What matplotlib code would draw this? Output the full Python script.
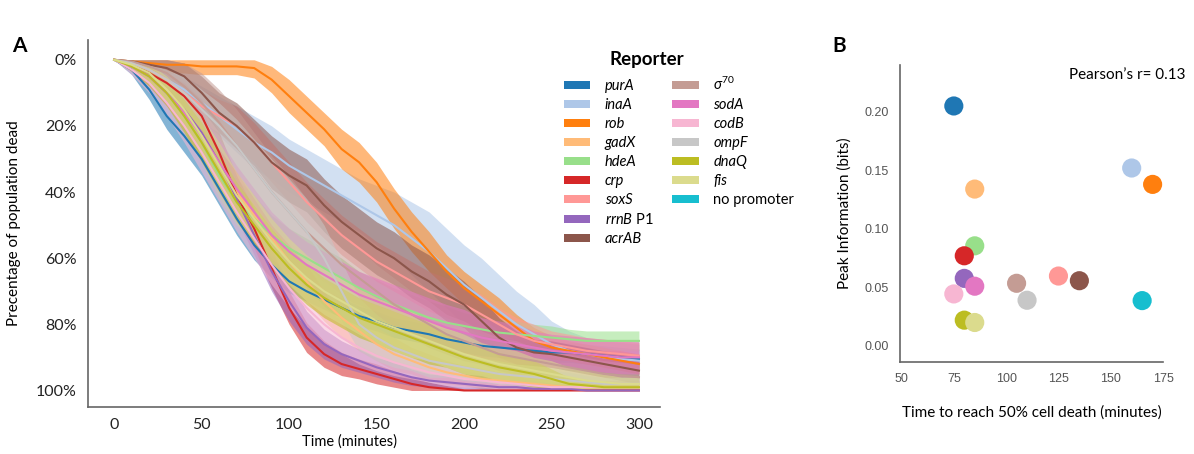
import numpy as np
import matplotlib
matplotlib.use("Agg")
import matplotlib.pyplot as plt
from matplotlib.patches import Patch

plt.rcParams['font.family'] = ['Lato', 'DejaVu Sans']
plt.rcParams['mathtext.fontset'] = 'custom'
plt.rcParams['mathtext.rm'] = 'Lato'
plt.rcParams['mathtext.it'] = 'Lato:italic'

# ---- data ----
minutes = [0, 10, 20, 30, 40, 50, 60, 70, 80, 90, 100, 110, 120, 130, 140, 150,
           160, 170, 180, 190, 200, 210, 220, 230, 240, 250, 260, 270, 280, 290, 300]

reporters = ['purA', 'inaA', 'rob', 'gadX', 'hdeA', 'crp', 'soxS', 'rrnB P1', 'acrAB',
             'sigma70', 'sodA', 'codB', 'ompF', 'dnaQ', 'fis', 'no promoter']
labels = ['purA', 'inaA', 'rob', 'gadX', 'hdeA', 'crp', 'soxS', r'$\mathit{rrnB}$ P1', 'acrAB',
          r'$\sigma^{70}$', 'sodA', 'codB', 'ompF', 'dnaQ', 'fis', 'no promoter']
colors = ['#1f77b4', '#aec7e8', '#ff7f0e', '#ffbb78', '#98df8a', '#d62728', '#ff9896', '#9467bd',
          '#8c564b', '#c49c94', '#e377c2', '#f7b6d2', '#c7c7c7', '#bcbd22', '#dbdb8d', '#17becf']

# mean percentage dead per reporter (no promoter curve is not visible in panel A)
dead_mean = {
    'purA': [0, 3, 9, 17, 23, 30, 39, 48, 56, 62, 67, 70, 72.5, 75, 77.5, 79, 81, 82, 83, 84.5,
             85.5, 86.5, 87, 87.5, 88, 88.5, 88.5, 89, 89.5, 90, 90.5],
    'inaA': [0, 1, 3, 6, 9, 13, 17, 21, 25, 28, 32, 35, 38, 41, 44, 47, 50, 54, 58, 63, 68, 72,
             76, 80, 83, 86, 88, 89, 90, 90.5, 91],
    'rob': [0, 0.5, 1, 1.5, 1.5, 2, 2, 2, 2.5, 6, 11, 16, 21, 27, 31, 37, 45, 52, 58, 64, 69, 73,
            77, 81, 85, 87, 88, 89, 90, 91, 92],
    'gadX': [0, 2, 5, 9, 15, 22, 31, 40, 47, 54, 61, 67, 73, 78, 82, 86, 89, 91, 93, 94.5, 95.5,
             96.5, 97, 97.5, 98, 98.5, 99, 99, 99, 99, 99],
    'hdeA': [0, 2, 5, 10, 17, 25, 35, 43, 48, 53, 57, 60, 63, 66, 69, 71.5, 74, 76, 78, 79.5, 80.5,
             81.5, 82.5, 83, 83.5, 84, 84.5, 85, 85, 85, 85],
    'crp': [0, 1.5, 4, 7, 11, 17, 28, 41, 51, 63, 75, 84, 89, 92, 93.5, 95, 96.5, 98, 99, 99.5,
            100, 100, 100, 100, 100, 100, 100, 100, 100, 100, 100],
    'soxS': [0, 1, 3, 6, 10, 14, 17, 20, 25, 31, 37, 43, 48, 53, 57, 61, 64, 67, 70, 72, 74, 77,
             80, 83, 85, 86, 87, 88, 88.5, 89, 89.5],
    'rrnB P1': [0, 2, 5, 10, 15, 22, 31, 42, 53, 64, 73, 81, 86, 89, 91, 93, 94.5, 96, 97, 97.5,
                98, 98.5, 99, 99, 99.5, 99.5, 99.5, 100, 100, 100, 100],
    'acrAB': [0, 0.5, 1.5, 2.5, 5, 10, 16, 20, 25, 31, 35, 38, 44, 49, 53, 57, 60, 64, 67, 71, 74,
              79, 84, 87, 88.5, 89, 90, 91, 92, 93, 94],
    'sigma70': [0, 0.5, 2, 4, 8, 13, 19, 26, 33, 40, 46, 52, 57, 62, 66, 70, 74, 77, 80, 83, 85,
                87, 89, 90, 91, 92, 93, 94, 95, 95.5, 96],
    'sodA': [0, 2, 5, 10, 16, 23, 31, 39, 46, 53, 58, 62, 65, 68, 71, 73, 75, 77, 79, 81, 82.5, 84,
             85, 86, 87, 88, 88.5, 89, 89.5, 90, 90],
    'codB': [0, 3, 7, 13, 20, 28, 37, 46, 54, 62, 69, 75, 80, 84, 87, 89.5, 91.5, 93, 94.5, 95.5,
             96.5, 97, 97.5, 98, 98.5, 99, 99, 99, 99, 99, 99],
    'ompF': [0, 1, 3, 6, 10, 15, 20, 26, 33, 40, 46, 52, 60, 70, 80, 84, 87, 89, 91, 92, 93, 94,
             95, 95.5, 96, 96.5, 97, 97.5, 98, 98, 98],
    'dnaQ': [0, 2, 5, 10, 17, 25, 34, 43, 50, 57, 63, 68, 72, 75, 78, 80, 82, 84, 86, 88, 90, 91.5,
             93, 94, 95, 96.5, 98, 98.5, 99, 99, 99],
    'fis': [0, 1.5, 4, 9, 15, 23, 32, 41, 48, 55, 61, 66, 70, 73, 76, 79, 81, 83, 85, 87, 89, 90.5,
            92, 93, 94, 95, 96, 97, 97.5, 98, 98],
}

# half width of the confidence band
dead_band = {
    'purA': [0, 1.5, 3, 4, 5, 5, 5, 5, 4.5, 4, 3.5, 3, 3, 3, 3, 3, 3, 3, 3, 3, 3, 3, 3, 3, 3, 3,
             3, 3, 3, 3, 3],
    'inaA': [0, 1, 2, 3, 4, 5, 6, 7, 8, 8, 8, 8, 8, 8, 8, 9, 10, 11, 12, 12, 12, 12, 11, 10, 9, 7,
             6, 5, 5, 5, 5],
    'rob': [0, 1.5, 2, 2.5, 2.5, 2.5, 2.5, 2.5, 3, 4, 5, 5, 5, 6, 6, 6, 6, 6, 6, 5, 5, 5, 5, 4, 4,
            3.5, 3, 3, 3, 3, 3],
    'gadX': [0, 1.5, 3, 4, 5, 6, 6, 6, 6, 6, 6, 6, 6, 6, 6, 5, 5, 4, 4, 3.5, 3, 3, 2.5, 2.5, 2, 2,
             2, 2, 2, 2, 2],
    'hdeA': [0, 1.5, 3, 4, 5, 6, 7, 7, 7, 6, 6, 6, 6, 6, 5, 5, 5, 5, 5, 5, 4, 4, 4, 4, 3.5, 3.5, 3,
             3, 3, 3, 3],
    'crp': [0, 1, 2, 3, 4, 5, 6, 6, 6, 6, 5, 4.5, 4, 3.5, 3, 3, 2.5, 2, 1.5, 1, 0.5, 0, 0, 0, 0, 0,
            0, 0, 0, 0, 0],
    'soxS': [0, 1, 2, 3, 4, 5, 5, 6, 6, 6, 6, 6, 6, 6, 6, 6, 6, 6, 6, 6, 6, 6, 5, 5, 5, 4, 4, 4, 4,
             4, 4],
    'rrnB P1': [0, 1.5, 3, 4, 5, 6, 6, 6, 6, 6, 6, 5, 4.5, 4, 3.5, 3, 3, 2.5, 2, 2, 1.5, 1.5, 1, 1,
                1, 1, 1, 0.5, 0.5, 0.5, 0.5],
    'acrAB': [0, 1, 2, 3, 4, 5, 6, 7, 7, 8, 8, 8, 8, 8, 8, 8, 8, 8, 8, 8, 7, 7, 6, 5, 4, 4, 4, 4, 4,
              4, 4],
    'sigma70': [0, 1, 3, 5, 7, 9, 10, 11, 11, 11, 11, 10, 10, 9, 9, 8, 8, 7, 7, 6, 6, 5, 5, 5, 4, 4,
                4, 4, 4, 4, 4],
    'sodA': [0, 1.5, 3, 4, 5, 6, 7, 7, 7, 7, 7, 7, 7, 7, 7, 7, 7, 7, 7, 7, 7, 6, 6, 6, 5, 5, 5, 5, 5,
             5, 5],
    'codB': [0, 1.5, 3, 4, 5, 6, 6, 6, 6, 6, 6, 6, 5.5, 5, 5, 4.5, 4, 3.5, 3, 3, 2.5, 2, 2, 2, 1.5,
             1, 1, 1, 1, 1, 1],
    'ompF': [0, 1, 2, 3, 5, 6, 7, 8, 9, 10, 10, 10, 10, 9, 8, 7, 6, 5, 5, 4, 4, 3.5, 3, 3, 3, 2.5,
             2.5, 2, 2, 2, 2],
    'dnaQ': [0, 1.5, 3, 4, 5, 6, 6, 6, 6, 6, 6, 6, 6, 6, 6, 6, 6, 6, 6, 5, 5, 5, 4.5, 4, 4, 3, 2,
             1.5, 1, 1, 1],
    'fis': [0, 1.5, 3, 4, 5, 6, 7, 7, 7, 7, 7, 7, 7, 7, 7, 7, 7, 7, 6, 6, 6, 5, 5, 5, 4, 4, 3, 3,
            2.5, 2, 2],
}

# panel B: time to 50% death vs peak information
half_death_time = [75, 160, 170, 85, 85, 80, 125, 80, 135, 105, 85, 75, 110, 80, 85, 165]
peak_info = [0.205, 0.152, 0.138, 0.134, 0.0855, 0.077, 0.0597, 0.0577, 0.0557, 0.0535,
             0.051, 0.0444, 0.039, 0.022, 0.020, 0.0387]

fig = plt.figure(figsize=(11.94, 4.54), dpi=100)
axA = fig.add_axes([0.0737, 0.1035, 0.479, 0.8085])
axB = fig.add_axes([0.7538, 0.2033, 0.2203, 0.6535])

# ---- panel A ----
t = np.array(minutes)
for name in reporters:
    if name not in dead_mean:
        continue
    c = colors[reporters.index(name)]
    m = np.array(dead_mean[name], dtype=float)
    b = np.array(dead_band[name], dtype=float)
    axA.fill_between(t, np.clip(m - b, 0, 100), np.clip(m + b, 0, 100),
                     color=c, alpha=0.55, lw=0)
    axA.plot(t, m, color=c, lw=1.5)

axA.set_xlim(-15, 312)
axA.set_ylim(105, -6)
axA.set_xticks([0, 50, 100, 150, 200, 250, 300])
axA.set_yticks([0, 20, 40, 60, 80, 100])
axA.set_yticklabels(['%d%%' % v for v in [0, 20, 40, 60, 80, 100]])
axA.tick_params(length=0, labelsize=11.5, pad=8, colors='#222222')
axA.set_xlabel('Time (minutes)', fontsize=10.5)
axA.set_ylabel('Precentage of population dead', fontsize=11)
axA.xaxis.set_label_coords(0.458, -0.075)
axA.yaxis.set_label_coords(-0.118, 0.5)
for s in ['top', 'right']:
    axA.spines[s].set_visible(False)
for s in ['left', 'bottom']:
    axA.spines[s].set_color('#666666')
    axA.spines[s].set_linewidth(1.2)

handles = [Patch(facecolor=c, edgecolor='none') for c in colors]
handles.append(Patch(facecolor='none', edgecolor='none'))
leg = axA.legend(handles, labels + [''], ncol=2, frameon=False,
                 loc='upper left', bbox_to_anchor=(564 / 1194, 1 - 76 / 454),
                 bbox_transform=fig.transFigure, borderaxespad=0, borderpad=0,
                 fontsize=10.5, handlelength=1.8, handleheight=0.45,
                 handletextpad=1.0, columnspacing=1.3, labelspacing=0.34)
for txt in leg.get_texts():
    if txt.get_text() not in ('no promoter', '') and '$' not in txt.get_text():
        txt.set_fontstyle('italic')
fig.text(647 / 1194, 1 - 60 / 454, 'Reporter', fontsize=13.5, fontweight='bold',
         ha='center', va='center')

# ---- panel B ----
axB.scatter(half_death_time, peak_info, c=colors, s=190, linewidths=0, zorder=3)
axB.set_xlim(49.3, 175)
axB.set_ylim(-0.0135, 0.24)
axB.set_xticks([50, 75, 100, 125, 150, 175])
axB.set_yticks([0.0, 0.05, 0.10, 0.15, 0.20])
axB.set_yticklabels(['0.00', '0.05', '0.10', '0.15', '0.20'])
axB.tick_params(length=0, labelsize=9, pad=8, colors='#555555')
for lab in axB.get_xticklabels() + axB.get_yticklabels():
    lab.set_family(['Liberation Sans', 'DejaVu Sans'])
axB.set_xlabel('Time to reach 50% cell death (minutes)', fontsize=11)
axB.set_ylabel('Peak Information (bits)', fontsize=11)
axB.xaxis.set_label_coords(0.5, -0.148)
axB.yaxis.set_label_coords(-0.182, 0.5)
for s in ['top', 'right']:
    axB.spines[s].set_visible(False)
for s in ['left', 'bottom']:
    axB.spines[s].set_color('#666666')
    axB.spines[s].set_linewidth(1.2)
axB.text(1.085, 0.965, u'Pearson\u2019s r= 0.13', transform=axB.transAxes,
         ha='right', va='center', fontsize=11)

fig.text(12 / 1194, 1 - 46 / 454, 'A', fontsize=15, fontweight='bold', va='center')
fig.text(832 / 1194, 1 - 46 / 454, 'B', fontsize=15, fontweight='bold', va='center')

fig.savefig('out.png', dpi=100)
